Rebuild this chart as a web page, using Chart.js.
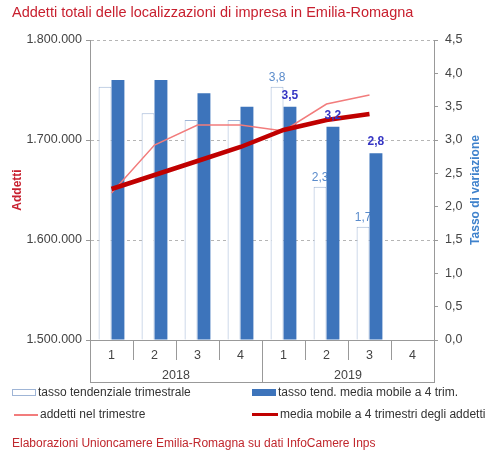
<!DOCTYPE html>
<html>
<head>
<meta charset="utf-8">
<script src="https://cdn.jsdelivr.net/npm/chart.js@4.4.0/dist/chart.umd.min.js"></script>
<style>
  html, body { margin: 0; padding: 0; background: #fff; }
  body { width: 488px; height: 459px; position: relative; overflow: hidden;
         font-family: "Liberation Sans", Arial, sans-serif; }
  #chart { position: absolute; left: 0; top: 0; }
  .txt { position: absolute; white-space: nowrap; }
  #title { left: 12px; top: 4px; font-size: 14.5px; color: #c8202f; }
  #source { left: 12px; top: 436px; font-size: 12px; color: #c0272d; }
  .leg { position: absolute; font-size: 12px; color: #333; white-space: nowrap; }
  .leg i { display: inline-block; vertical-align: middle; margin-right: 2px; }
</style>
</head>
<body>
<canvas id="chart" width="488" height="459"></canvas>
<div id="title" class="txt">Addetti totali delle localizzazioni di impresa in Emilia-Romagna</div>
<div class="leg" style="left:12px; top:385px;"><i style="width:22px;height:5px;border:1px solid #9fb5d6;background:#fff;"></i>tasso tendenziale trimestrale</div>
<div class="leg" style="left:252px; top:385px;"><i style="width:24px;height:7px;background:#3d74bb;"></i>tasso tend. media mobile a 4 trim.</div>
<div class="leg" style="left:14px; top:407px;"><i style="width:24px;height:2px;background:#f27c7c;"></i>addetti nel trimestre</div>
<div class="leg" style="left:252px; top:407px;"><i style="width:26px;height:3px;background:#c00000;"></i>media mobile a 4 trimestri degli addetti</div>
<div id="source" class="txt">Elaborazioni Unioncamere Emilia-Romagna su dati InfoCamere Inps</div>
<script>
// ---- data ----
const quarters = ['1', '2', '3', '4', '1', '2', '3', '4'];
const years = ['2018', '2019'];
const tassoTrimestrale = [3.8, 3.4, 3.3, 3.3, 3.8, 2.3, 1.7, null];
const tassoMediaMobile = [3.9, 3.9, 3.7, 3.5, 3.5, 3.2, 2.8, null];
const addettiTrimestre = [1647000, 1695000, 1715000, 1715000, 1709000, 1736000, 1745000, null];
const addettiMediaMobile = [1651000, 1665000, 1679000, 1693000, 1710000, 1720000, 1726000, null];
const labelFrom = 4; // value labels only on 2019 bars

const FONT = '"Liberation Sans", Arial, sans-serif';
const fmtComma = v => v.toFixed(1).replace('.', ',');
const fmtThousands = v => String(Math.round(v)).replace(/\B(?=(\d{3})+(?!\d))/g, '.');

// value labels on the bars
const barLabelPlugin = {
    id: 'barLabels',
    beforeDatasetsDraw(chart) {
        // hollow bar labels sit under the filled bars
        drawLabels(chart, 0, 'normal 12px ' + FONT, '#5a8bcb', 6);
    },
    afterDatasetsDraw(chart) {
        drawLabels(chart, 1, 'bold 12px ' + FONT, '#3636c4', 8);
    }
};

function drawLabels(chart, dsIndex, font, color, gap) {
    const ctx = chart.ctx;
    const meta = chart.getDatasetMeta(dsIndex);
    const data = chart.data.datasets[dsIndex].data;
    ctx.save();
    ctx.font = font;
    ctx.fillStyle = color;
    ctx.textAlign = 'center';
    ctx.textBaseline = 'alphabetic';
    meta.data.forEach((bar, i) => {
        if (i < labelFrom || data[i] == null) return;
        ctx.fillText(fmtComma(data[i]), bar.x, bar.y - gap);
    });
    ctx.restore();
}

// second level of the category axis (years) + right axis title
const yearAxisPlugin = {
    id: 'yearAxis',
    afterDraw(chart) {
        const ctx = chart.ctx;
        const x = chart.scales.x;
        const area = chart.chartArea;
        const per = quarters.length / years.length;
        const half = (x.getPixelForValue(1) - x.getPixelForValue(0)) / 2;
        ctx.save();
        ctx.strokeStyle = '#999';
        ctx.lineWidth = 1;
        ctx.beginPath();
        for (let k = 0; k <= years.length; k++) {
            const px = Math.round(x.getPixelForValue(k * per) - half) + 0.5;
            ctx.moveTo(px, area.bottom);
            ctx.lineTo(px, x.bottom);
        }
        ctx.moveTo(x.left, Math.round(x.bottom) - 0.5);
        ctx.lineTo(x.right, Math.round(x.bottom) - 0.5);
        ctx.stroke();
        ctx.fillStyle = '#444';
        ctx.font = '12.5px ' + FONT;
        ctx.textAlign = 'center';
        ctx.textBaseline = 'middle';
        years.forEach((y, k) => {
            const cx = (x.getPixelForValue(k * per) + x.getPixelForValue(k * per + per - 1)) / 2;
            ctx.fillText(y, cx, x.bottom - 7);
        });
        // right axis title, read bottom-to-top
        ctx.translate(476, (area.top + area.bottom) / 2);
        ctx.rotate(-Math.PI / 2);
        ctx.font = 'bold 12px ' + FONT;
        ctx.fillStyle = '#3f82cc';
        ctx.fillText('Tasso di variazione', 0, 0);
        ctx.restore();
    }
};

new Chart(document.getElementById('chart').getContext('2d'), {
    type: 'bar',
    data: {
        labels: quarters,
        datasets: [
            {
                label: 'tasso tendenziale trimestrale',
                data: tassoTrimestrale,
                backgroundColor: '#ffffff',
                borderColor: '#9fb5d6',
                borderWidth: 1,
                yAxisID: 'y1',
                categoryPercentage: 0.6,
                barPercentage: 1.0,
                order: 2
            },
            {
                label: 'tasso tend. media mobile a 4 trim.',
                data: tassoMediaMobile,
                backgroundColor: '#3d74bb',
                borderWidth: 0,
                yAxisID: 'y1',
                categoryPercentage: 0.6,
                barPercentage: 1.0,
                order: 3
            },
            {
                label: 'addetti nel trimestre',
                type: 'line',
                data: addettiTrimestre,
                borderColor: '#f27c7c',
                borderWidth: 1.5,
                pointRadius: 0,
                tension: 0,
                yAxisID: 'y',
                order: 1
            },
            {
                label: 'media mobile a 4 trimestri degli addetti',
                type: 'line',
                data: addettiMediaMobile,
                borderColor: '#c00000',
                borderWidth: 4.5,
                pointRadius: 0,
                tension: 0,
                yAxisID: 'y',
                order: 0
            }
        ]
    },
    options: {
        responsive: false,
        animation: false,
        layout: { padding: { top: 40, bottom: 76, left: 0, right: 0 } },
        plugins: {
            legend: { display: false },
            tooltip: { enabled: false }
        },
        scales: {
            x: {
                offset: true,
                grid: {
                    offset: true,
                    drawOnChartArea: false,
                    drawTicks: true,
                    tickLength: 20,
                    color: '#999'
                },
                border: { display: true, color: '#999' },
                ticks: { color: '#444', font: { size: 12.5, family: FONT }, padding: -12 },
                afterFit: s => { s.height = 43; }
            },
            y: {
                position: 'left',
                min: 1500000,
                max: 1800000,
                ticks: {
                    stepSize: 100000,
                    color: '#444',
                    font: { size: 12.5, family: FONT },
                    padding: 4,
                    callback: v => fmtThousands(v)
                },
                grid: {
                    color: c => c.tick && c.tick.value === 1500000 ? 'rgba(0,0,0,0)' : '#b5b5b5',
                    tickColor: '#999',
                    tickBorderDash: [],
                    tickLength: 4
                },
                border: { display: true, color: '#999', dash: [3, 3] },
                title: {
                    display: true,
                    text: 'Addetti',
                    color: '#c8202f',
                    font: { size: 12, weight: 'bold', family: FONT },
                    padding: { top: 10, bottom: 0 }
                },
                afterFit: s => { s.width = 90; }
            },
            y1: {
                position: 'right',
                min: 0,
                max: 4.5,
                ticks: {
                    stepSize: 0.5,
                    color: '#444',
                    font: { size: 12.5, family: FONT },
                    padding: 7,
                    callback: v => fmtComma(v)
                },
                grid: { drawOnChartArea: false, tickLength: 4, color: '#999' },
                border: { display: true, color: '#999' },
                afterFit: s => { s.width = 54; }
            }
        }
    },
    plugins: [barLabelPlugin, yearAxisPlugin]
});
</script>
</body>
</html>
